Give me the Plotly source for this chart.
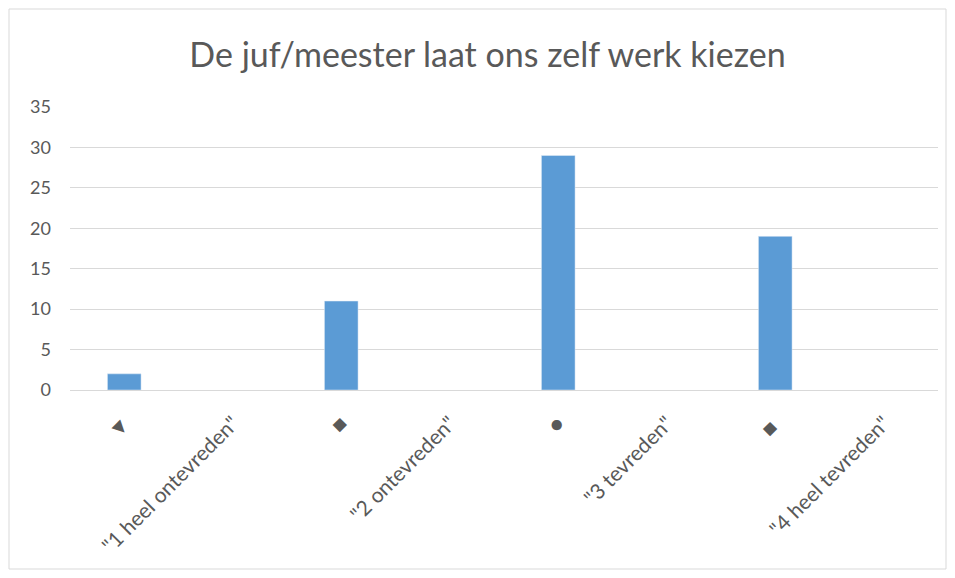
import plotly.graph_objects as go

# categories as they appear on the x axis (symbol rows have the counts)
categories = ['▼', '"1 heel ontevreden"', '■', '"2 ontevreden"',
              '●', '"3 tevreden"', '■ ', '"4 heel tevreden"']
counts = [2, None, 11, None, 29, None, 19, None]

title = 'De juf/meester laat ons zelf werk kiezen'

# page has an 8px body margin, so size the figure to fit inside the window
W, H = 939, 562
L, R, T, B = 62, 9, 99, 180
pw, ph = W - L - R, H - T - B

fig = go.Figure()
fig.add_trace(go.Bar(x=categories, y=counts, marker_color='#5B9BD5', width=0.31))

# light frame around the whole chart, like the Excel chart area
fig.add_shape(type='rect', xref='paper', yref='paper',
              x0=(1 - L) / pw, x1=(938 - L) / pw,
              y0=(H - B - 561) / ph, y1=(H - B - 1) / ph,
              line=dict(color='#D9D9D9', width=1), layer='below')

fig.update_layout(
    width=W, height=H,
    margin=dict(l=L, r=R, t=T, b=B),
    paper_bgcolor='white', plot_bgcolor='white',
    font=dict(family='Lato', color='#595959', size=18),
    title=dict(text=title, x=479.5 / W, xanchor='center', y=1 - 47 / H, yanchor='middle',
               font=dict(size=34, color='#595959', family='Lato')),
    showlegend=False,
    bargap=0.69,
)
fig.update_xaxes(tickangle=-45, showgrid=False, showline=True, linecolor='#D9D9D9',
                 ticks='', tickfont=dict(size=21, color='#595959'), ticklabelstandoff=12)
fig.update_yaxes(range=[0, 35], dtick=5, showgrid=True, gridcolor='#D9D9D9', zeroline=False,
                 showline=False, ticks='', tickfont=dict(size=18, color='#595959'),
                 ticklabelstandoff=18)

fig.write_html("out.html")
